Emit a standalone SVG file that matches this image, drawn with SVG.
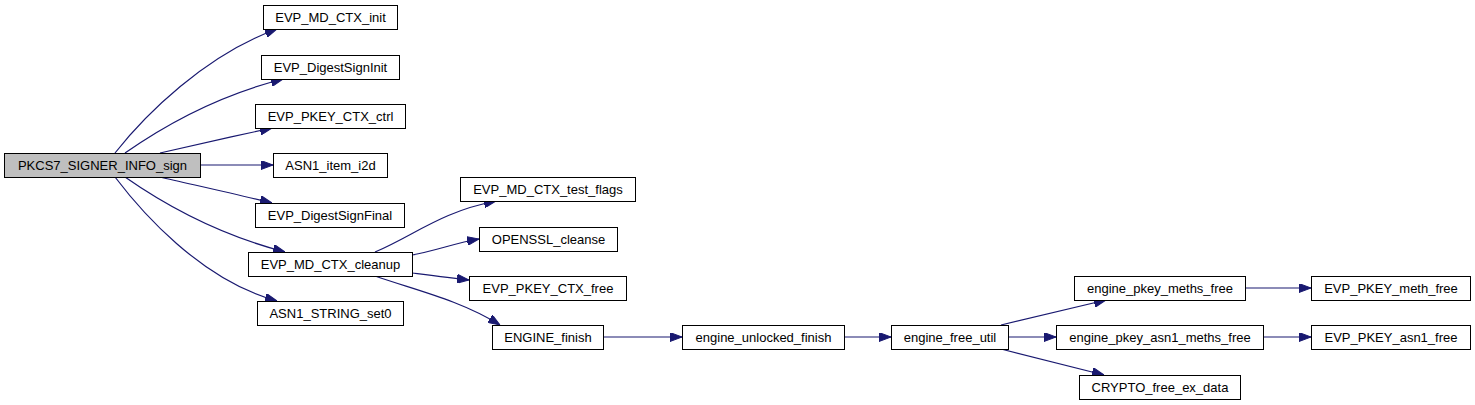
<svg xmlns="http://www.w3.org/2000/svg" width="1475" height="405" viewBox="0 0 1475 405">
<style>
.n rect{fill:#fff;stroke:#000;stroke-width:1}
.n text{font-family:"Liberation Sans",Arial,sans-serif;font-size:13px;text-anchor:middle;fill:#000}
.e path{fill:none;stroke:#191970;stroke-width:1.2;marker-end:url(#ah)}
</style>
<defs>
<marker id="ah" markerUnits="userSpaceOnUse" markerWidth="12" markerHeight="9" refX="12" refY="4.5" orient="auto">
<path d="M0,0 L12,4.5 L0,9 z" fill="#191970" stroke="#191970"/>
</marker>
</defs>
<rect width="1475" height="405" fill="#fff"/>
<g class="e" id="edges">
<path d="M115,153 C145,115 205,55 277,29"/>
<path d="M125,153 C165,125 220,95 283,79"/>
<path d="M160,153 C190,146 235,136 272,128"/>
<path d="M200,165 L273,165"/>
<path d="M160,177 C190,184 235,194 272,203"/>
<path d="M125,177 C165,205 220,235 285,252"/>
<path d="M115,177 C140,210 200,280 277,301"/>
<path d="M375,252 C415,235 440,212 496,201"/>
<path d="M412,255 C435,251 455,243 479,239"/>
<path d="M412,273 C435,276 450,278 469,280"/>
<path d="M375,276 C415,290 460,300 500,325"/>
<path d="M603,337 L682,337"/>
<path d="M844,337 L891,337"/>
<path d="M1008,337 L1056,337"/>
<path d="M1001,325 L1106,300"/>
<path d="M1001,349 L1104,375"/>
<path d="M1245,288 L1311,288"/>
<path d="M1263,337 L1311,337"/>
</g>
<g class="n" id="PKCS7_SIGNER_INFO_sign"><rect x="4.5" y="153.5" width="196" height="24" style="fill:#bfbfbf"/><text x="102.5" y="170">PKCS7_SIGNER_INFO_sign</text></g>
<g class="n" id="EVP_MD_CTX_init"><rect x="263.5" y="5.5" width="134" height="24"/><text x="330.5" y="22">EVP_MD_CTX_init</text></g>
<g class="n" id="EVP_DigestSignInit"><rect x="261.5" y="55.5" width="138" height="24"/><text x="330.5" y="72">EVP_DigestSignInit</text></g>
<g class="n" id="EVP_PKEY_CTX_ctrl"><rect x="255.5" y="104.5" width="150" height="24"/><text x="330.5" y="121">EVP_PKEY_CTX_ctrl</text></g>
<g class="n" id="ASN1_item_i2d"><rect x="273.5" y="153.5" width="114" height="24"/><text x="330.5" y="170">ASN1_item_i2d</text></g>
<g class="n" id="EVP_DigestSignFinal"><rect x="255.5" y="203.5" width="149" height="24"/><text x="330" y="220">EVP_DigestSignFinal</text></g>
<g class="n" id="EVP_MD_CTX_cleanup"><rect x="248.5" y="252.5" width="164" height="24"/><text x="330.5" y="269">EVP_MD_CTX_cleanup</text></g>
<g class="n" id="ASN1_STRING_set0"><rect x="257.5" y="301.5" width="146" height="24"/><text x="330.5" y="318">ASN1_STRING_set0</text></g>
<g class="n" id="EVP_MD_CTX_test_flags"><rect x="460.5" y="177.5" width="175" height="24"/><text x="548" y="194">EVP_MD_CTX_test_flags</text></g>
<g class="n" id="OPENSSL_cleanse"><rect x="479.5" y="227.5" width="138" height="24"/><text x="548.5" y="244">OPENSSL_cleanse</text></g>
<g class="n" id="EVP_PKEY_CTX_free"><rect x="469.5" y="276.5" width="157" height="24"/><text x="548" y="293">EVP_PKEY_CTX_free</text></g>
<g class="n" id="ENGINE_finish"><rect x="492.5" y="325.5" width="111" height="24"/><text x="548" y="342">ENGINE_finish</text></g>
<g class="n" id="engine_unlocked_finish"><rect x="682.5" y="325.5" width="162" height="24"/><text x="763.5" y="342">engine_unlocked_finish</text></g>
<g class="n" id="engine_free_util"><rect x="891.5" y="325.5" width="117" height="24"/><text x="950" y="342">engine_free_util</text></g>
<g class="n" id="engine_pkey_meths_free"><rect x="1074.5" y="276.5" width="171" height="24"/><text x="1160" y="293">engine_pkey_meths_free</text></g>
<g class="n" id="engine_pkey_asn1_meths_free"><rect x="1056.5" y="325.5" width="207" height="24"/><text x="1160" y="342">engine_pkey_asn1_meths_free</text></g>
<g class="n" id="CRYPTO_free_ex_data"><rect x="1079.5" y="375.5" width="161" height="24"/><text x="1160" y="392">CRYPTO_free_ex_data</text></g>
<g class="n" id="EVP_PKEY_meth_free"><rect x="1311.5" y="276.5" width="159" height="24"/><text x="1391" y="293">EVP_PKEY_meth_free</text></g>
<g class="n" id="EVP_PKEY_asn1_free"><rect x="1311.5" y="325.5" width="159" height="24"/><text x="1391" y="342">EVP_PKEY_asn1_free</text></g>
</svg>
